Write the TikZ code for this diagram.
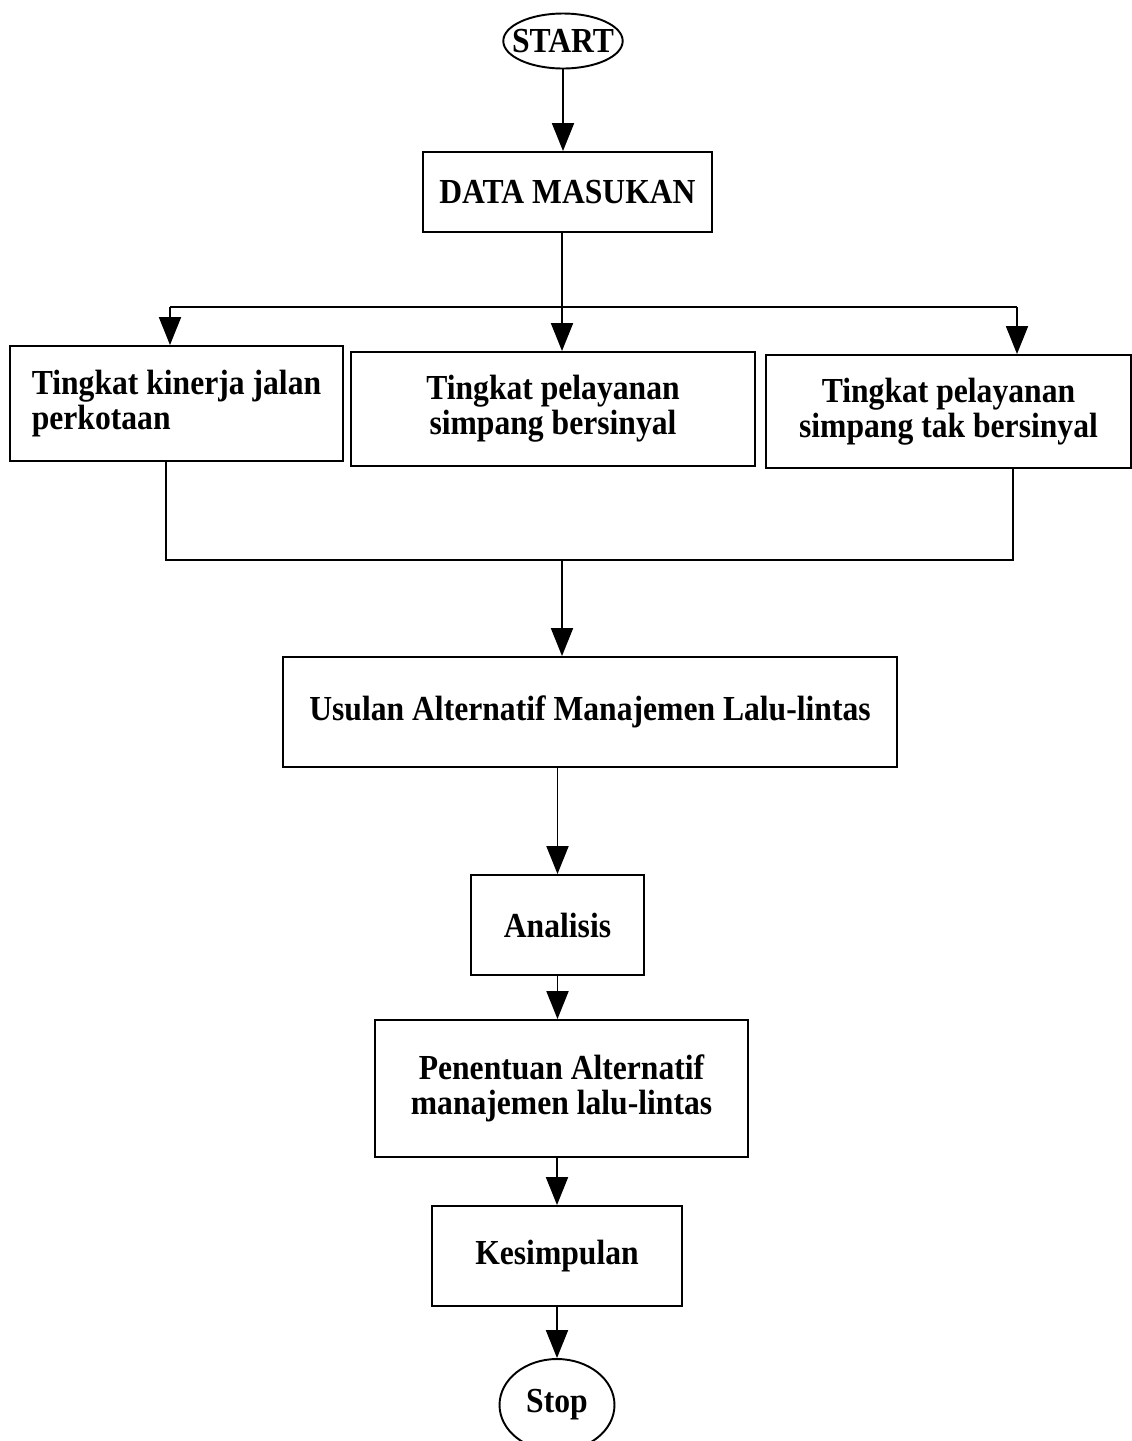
\documentclass[tikz,border=0pt]{standalone}
\usepackage{fontspec}
\setmainfont{Liberation Serif}[FakeStretch=0.9]
\usetikzlibrary{arrows.meta,positioning,shapes.geometric,calc}
\tikzset{
  flowbox/.style={draw,line width=1.1pt,inner sep=0pt,font=\fontsize{20}{20}\selectfont\bfseries,align=center},
  terminal/.style={draw,ellipse,line width=1.1pt,inner xsep=-5pt,inner ysep=0pt,font=\fontsize{20}{20}\selectfont\bfseries},
  flowarrow/.style={line width=1.1pt,-{Triangle[length=0.56cm,width=0.44cm]}},
  flowline/.style={line width=1.1pt}
}
\begin{document}
\begin{tikzpicture}[x=0.02cm,y=-0.02cm]
  \useasboundingbox (0,0) rectangle (1132,1441);
  \node[terminal,minimum width=2.38cm,minimum height=1.1cm] (start) at (563,41) {START};
  \node[flowbox,minimum width=5.78cm,minimum height=1.6cm] (data) at (567.5,192) {DATA MASUKAN};
  \node[flowbox,minimum width=6.66cm,minimum height=2.3cm,align=left] (kinerja) at (176.5,403.5) {Tingkat kinerja jalan\\ perkotaan};
  \node[flowbox,minimum width=8.08cm,minimum height=2.28cm] (bersinyal) at (553,409) {Tingkat pelayanan\\simpang bersinyal};
  \node[flowbox,minimum width=7.3cm,minimum height=2.26cm] (takbersinyal) at (948.5,411.5) {Tingkat pelayanan\\simpang tak bersinyal};
  \node[flowbox,minimum width=12.28cm,minimum height=2.2cm] (usulan) at (590,712) {Usulan Alternatif Manajemen Lalu-lintas};
  \node[flowbox,minimum width=3.46cm,minimum height=2cm] (analisis) at (557.5,925) {Analisis};
  \node[flowbox,minimum width=7.46cm,minimum height=2.74cm] (penentuan) at (561.5,1088.5) {Penentuan Alternatif\\manajemen lalu-lintas};
  \node[flowbox,minimum width=5cm,minimum height=2cm] (kesimpulan) at (557,1256) {Kesimpulan};
  \node[terminal,minimum width=2.3cm,minimum height=1.84cm] (stop) at (557,1405) {Stop};
  % fork and join points
  \coordinate (fork) at (562,307);
  \coordinate (forkL) at (170,307);
  \coordinate (forkR) at (1017,307);
  \coordinate (join) at (562,560);
  \coordinate (joinL) at (166,560);
  \coordinate (joinR) at (1013,560);
  \draw[flowarrow] (start.south) -- (start.south |- data.north);
  \draw[flowline] (data.south -| fork) -- (fork);
  \draw[flowline] (forkL) -- (forkR);
  \draw[flowarrow] (fork) -- (fork |- bersinyal.north);
  \draw[flowarrow] (forkL) -- (forkL |- kinerja.north);
  \draw[flowarrow] (forkR) -- (forkR |- takbersinyal.north);
  \draw[flowline] (kinerja.south -| joinL) -- (joinL) -- (joinR) -- (takbersinyal.south -| joinR);
  \draw[flowarrow] (join) -- (join |- usulan.north);
  \draw[flowarrow] (usulan.south -| analisis.north) -- (analisis.north);
  \draw[flowarrow] (analisis.south) -- (analisis.south |- penentuan.north);
  \draw[flowarrow] (penentuan.south -| kesimpulan.north) -- (kesimpulan.north);
  \draw[flowarrow] (kesimpulan.south) -- (stop.north);
\end{tikzpicture}
\end{document}
